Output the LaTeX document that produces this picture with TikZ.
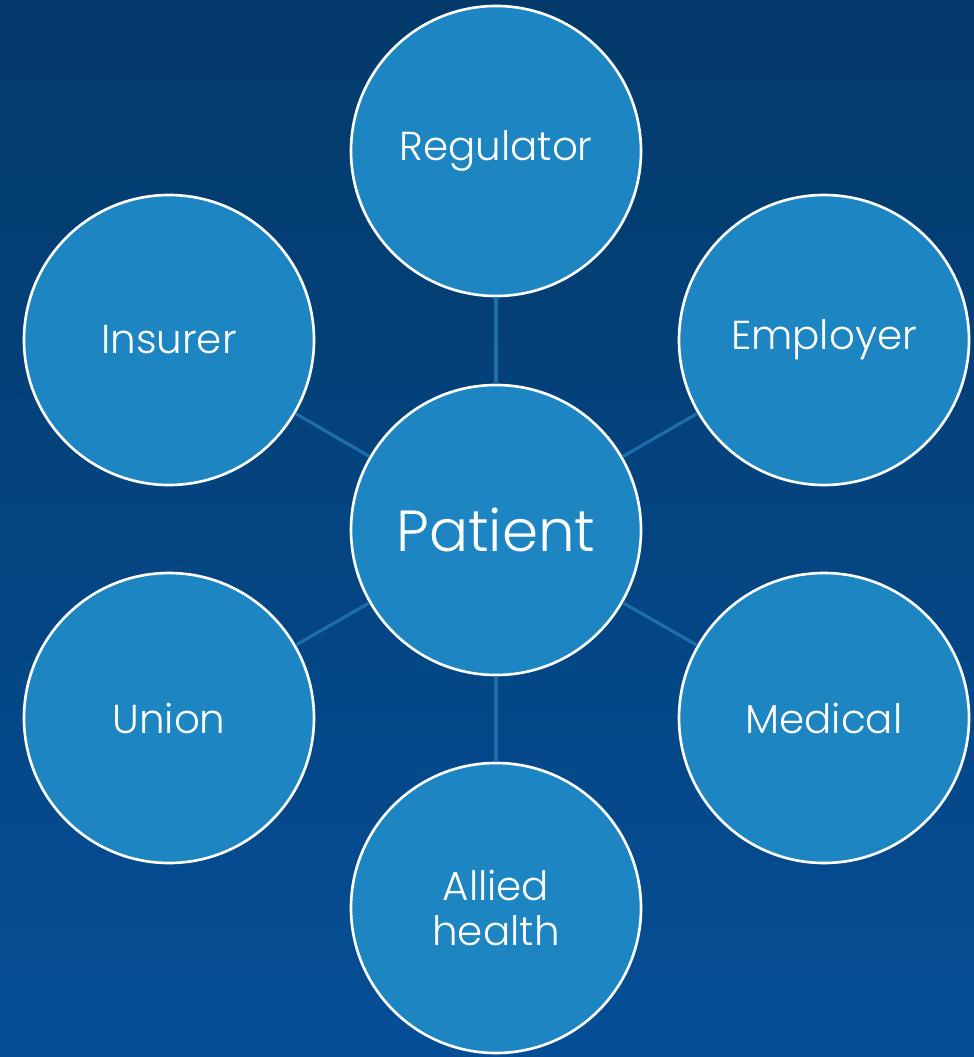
\documentclass[tikz,border=0pt]{standalone}
\usepackage{fontspec}
\setmainfont{Poppins Light}
\usetikzlibrary{positioning}

\definecolor{bgtop}{HTML}{033A6A}
\definecolor{bgbottom}{HTML}{054E96}
\definecolor{bubble}{HTML}{1D86C2}
\definecolor{spoke}{HTML}{1E6FA9}

\begin{document}
\begin{tikzpicture}[
    hub/.style={draw=white, circle, line width=0.75pt, fill=bubble,
        minimum size=2.9cm, inner sep=0pt, text=white,
        font=\fontsize{16.5}{18}\selectfont, align=center},
    party/.style={draw=white, circle, line width=0.75pt, fill=bubble,
        minimum size=2.9cm, inner sep=0pt, text=white,
        font=\fontsize{11.5}{12.8}\selectfont, align=center},
    link/.style={draw=spoke, line width=0.9pt},
]

% === Background ===
\shade[top color=bgtop, bottom color=bgbottom] (0, 0) rectangle (9.74, -10.57);
\useasboundingbox (0, 0) rectangle (9.74, -10.57);

% === Centre ===
\node[hub] (patient) at (4.96, -5.30) {Patient};

% === Surrounding parties ===
\node[party] (regulator) at (4.96, -1.51) {Regulator};
\node[party] (insurer) at (1.69, -3.40) {Insurer};
\node[party] (employer) at (8.24, -3.40) {Employer};
\node[party] (union) at (1.69, -7.18) {Union};
\node[party] (medical) at (8.24, -7.18) {Medical};
\node[party] (allied) at (4.96, -9.08) {Allied\\health};

% === Spokes ===
\foreach \p in {regulator, insurer, employer, union, medical, allied}
    \draw[link] (patient) -- (\p);

\end{tikzpicture}
\end{document}
